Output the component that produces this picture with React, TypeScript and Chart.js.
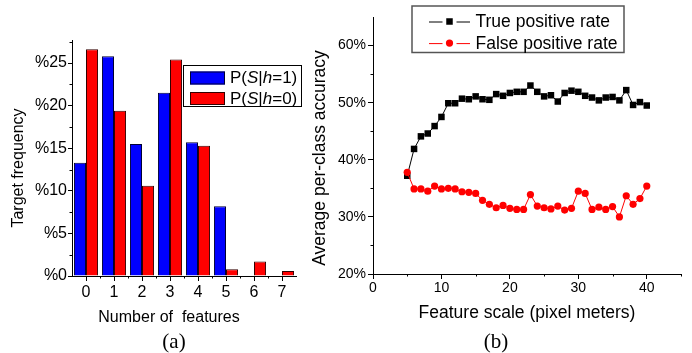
import React, { useEffect, useRef } from 'react';
import { Chart, registerables } from 'chart.js';

Chart.register(...registerables);

// ---------- data: panel (a) ----------
const featureCounts = ['0', '1', '2', '3', '4', '5', '6', '7'];
const probGivenH1 = [13.3, 25.8, 15.5, 21.5, 15.7, 8.2, 0, 0];
const probGivenH0 = [26.6, 19.4, 10.6, 25.4, 15.3, 0.8, 1.7, 0.6];
const freqTicks = [0, 5, 10, 15, 20, 25];
const freqMinorTicks = [2.5, 7.5, 12.5, 17.5, 22.5, 27.5];
const countMinorTicks = [0.5, 1.5, 2.5, 3.5, 4.5, 5.5, 6.5];
const legendA = ['P(*S*|*h*=1)', 'P(*S*|*h*=0)'];

// ---------- data: panel (b) ----------
const featureScale = [5, 6, 7, 8, 9, 10, 11, 12, 13, 14, 15, 16, 17, 18, 19, 20, 21, 22, 23, 24, 25, 26, 27, 28, 29, 30, 31, 32, 33, 34, 35, 36, 37, 38, 39, 40];
const truePositiveRate = [37.2, 41.9, 44.1, 44.6, 45.9, 47.5, 49.9, 49.9, 50.7, 50.6, 51.1, 50.6, 50.5, 51.5, 51.2, 51.7, 51.9, 51.9, 53.0, 51.9, 51.1, 51.3, 50.2, 51.7, 52.1, 51.9, 51.2, 50.9, 50.4, 50.9, 51.0, 50.4, 52.2, 49.6, 50.1, 49.5];
const falsePositiveRate = [37.8, 34.9, 34.9, 34.5, 35.4, 34.9, 35.0, 34.9, 34.4, 34.3, 34.1, 32.9, 32.2, 31.6, 32.0, 31.5, 31.3, 31.3, 33.9, 31.9, 31.6, 31.4, 31.9, 31.2, 31.5, 34.5, 34.1, 31.3, 31.7, 31.3, 31.8, 30.0, 33.7, 32.2, 33.2, 35.4];
const accuracyTicks = [20, 30, 40, 50, 60];
const accuracyMinorTicks = [25, 35, 45, 55];
const scaleTicks = [0, 10, 20, 30, 40];
const scaleMinorTicks = [5, 15, 25, 35, 45];
const legendB = ['True positive rate', 'False positive rate'];

const SANS = '"Liberation Sans", Arial, Helvetica, sans-serif';
const SERIF = '"Liberation Serif", "Times New Roman", serif';

// ---------- plugins ----------
const minorTicksPlugin = {
  id: 'minorTicks',
  afterDraw(chart: any, _args: any, opts: any) {
    const ctx = chart.ctx;
    const xs = chart.scales.x;
    const ys = chart.scales.y;
    const len = opts.length || 2.5;
    ctx.save();
    ctx.strokeStyle = '#000';
    ctx.lineWidth = 1;
    ctx.beginPath();
    (opts.x || []).forEach((v: number) => {
      const px = Math.round(xs.getPixelForValue(v)) + 0.5;
      ctx.moveTo(px, xs.top);
      ctx.lineTo(px, xs.top + len);
    });
    (opts.y || []).forEach((v: number) => {
      const py = Math.round(ys.getPixelForValue(v)) + 0.5;
      ctx.moveTo(ys.right, py);
      ctx.lineTo(ys.right - len, py);
    });
    ctx.stroke();
    ctx.restore();
  },
};

const captionsPlugin = {
  id: 'captions',
  afterDraw(chart: any, _args: any, opts: any) {
    const ctx = chart.ctx;
    (opts.items || []).forEach((c: any) => {
      ctx.save();
      ctx.translate(c.x, c.y);
      ctx.rotate(c.rotation || 0);
      ctx.font = c.font;
      ctx.fillStyle = '#000';
      ctx.textAlign = 'center';
      ctx.textBaseline = 'middle';
      ctx.fillText(c.text, 0, 0);
      ctx.restore();
    });
  },
};

function drawRich(ctx: CanvasRenderingContext2D, x: number, y: number, markup: string, size: number) {
  const parts = markup.split('*');
  let cx = x;
  parts.forEach((p, i) => {
    if (!p) return;
    ctx.font = `${i % 2 ? 'italic ' : ''}${size}px ${SANS}`;
    ctx.fillText(p, cx, y);
    cx += ctx.measureText(p).width;
  });
}

const barLegendPlugin = {
  id: 'barLegend',
  afterDraw(chart: any, _args: any, opts: any) {
    const ctx = chart.ctx;
    const b = opts.box;
    ctx.save();
    ctx.fillStyle = '#fff';
    ctx.fillRect(b.x, b.y, b.w, b.h);
    ctx.strokeStyle = '#000';
    ctx.lineWidth = 1;
    ctx.strokeRect(b.x + 0.5, b.y + 0.5, b.w, b.h);
    chart.data.datasets.forEach((ds: any, i: number) => {
      const ry = b.y + opts.rowTop + i * opts.rowGap;
      ctx.fillStyle = ds.backgroundColor;
      ctx.fillRect(b.x + opts.swX, ry, opts.swW, opts.swH);
      ctx.strokeStyle = ds.borderColor;
      ctx.strokeRect(b.x + opts.swX + 0.5, ry + 0.5, opts.swW - 1, opts.swH - 1);
      ctx.fillStyle = '#000';
      ctx.textBaseline = 'middle';
      ctx.textAlign = 'left';
      drawRich(ctx, b.x + opts.textX, ry + opts.swH / 2 + 0.5, opts.labels[i], opts.size);
    });
    ctx.restore();
  },
};

const lineLegendPlugin = {
  id: 'lineLegend',
  afterDraw(chart: any, _args: any, opts: any) {
    const ctx = chart.ctx;
    const b = opts.box;
    ctx.save();
    ctx.fillStyle = '#fff';
    ctx.fillRect(b.x, b.y, b.w, b.h);
    ctx.strokeStyle = '#555';
    ctx.lineWidth = 1.5;
    ctx.strokeRect(b.x, b.y, b.w, b.h);
    chart.data.datasets.forEach((ds: any, i: number) => {
      const cy = b.y + opts.rowTop + i * opts.rowGap;
      const x0 = b.x + opts.lineX;
      const x1 = x0 + opts.lineW;
      const mx = (x0 + x1) / 2;
      ctx.strokeStyle = ds.borderColor;
      ctx.lineWidth = 1;
      ctx.beginPath();
      ctx.moveTo(x0, cy + 0.5);
      ctx.lineTo(mx - 7, cy + 0.5);
      ctx.moveTo(mx + 7, cy + 0.5);
      ctx.lineTo(x1, cy + 0.5);
      ctx.stroke();
      ctx.fillStyle = ds.backgroundColor;
      ctx.beginPath();
      if (ds.pointStyle === 'rect') {
        const s = ds.pointRadius * Math.SQRT1_2;
        ctx.rect(mx - s, cy - s, 2 * s, 2 * s);
      } else {
        ctx.arc(mx, cy, ds.pointRadius, 0, Math.PI * 2);
      }
      ctx.fill();
      ctx.fillStyle = '#000';
      ctx.font = `${opts.size}px ${SANS}`;
      ctx.textAlign = 'left';
      ctx.textBaseline = 'middle';
      ctx.fillText(opts.labels[i], b.x + opts.textX, cy + 1);
    });
    ctx.restore();
  },
};

// ---------- charts ----------
function PanelA() {
  const ref = useRef<HTMLCanvasElement>(null);
  useEffect(() => {
    if (!ref.current) return;
    const chart = new Chart(ref.current, {
      type: 'bar',
      data: {
        labels: featureCounts,
        datasets: [
          { label: 'P(S|h=1)', data: probGivenH1, backgroundColor: '#0000ff', borderColor: '#000033', borderWidth: 1, categoryPercentage: 0.86, barPercentage: 1 },
          { label: 'P(S|h=0)', data: probGivenH0, backgroundColor: '#ff0000', borderColor: '#330000', borderWidth: 1, categoryPercentage: 0.86, barPercentage: 1 },
        ],
      },
      options: {
        animation: false,
        responsive: false,
        maintainAspectRatio: false,
        layout: { padding: { left: 0, top: 40, right: 14, bottom: 0 } },
        plugins: {
          legend: { display: false },
          tooltip: { enabled: false },
          title: { display: false },
          minorTicks: { x: countMinorTicks, y: freqMinorTicks, length: 2.5 },
          captions: {
            items: [
              { text: 'Target frequency', x: 19, y: 168, rotation: -Math.PI / 2, font: `16px ${SANS}` },
              { text: 'Number of  features', x: 169, y: 318, font: `16px ${SANS}` },
              { text: '(a)', x: 174, y: 342, font: `21px ${SERIF}` },
            ],
          },
          barLegend: {
            box: { x: 183, y: 65, w: 118, h: 41 },
            rowTop: 6.5, rowGap: 20.5, swX: 7, swW: 35, swH: 13, textX: 47, size: 17,
            labels: legendA,
          },
        } as any,
        scales: {
          x: {
            type: 'category',
            offset: true,
            grid: { offset: false, drawOnChartArea: false, drawTicks: true, tickLength: 5, color: '#000', lineWidth: 1 },
            border: { display: true, color: '#000', width: 1 },
            ticks: { color: '#000', font: { family: SANS, size: 16 }, padding: 2, maxRotation: 0 },
            afterFit: (s: any) => { s.height = 77; },
          },
          y: {
            type: 'linear',
            min: 0,
            max: 27.7,
            afterBuildTicks: (s: any) => { s.ticks = freqTicks.map((v) => ({ value: v })); },
            grid: { drawOnChartArea: false, drawTicks: true, tickLength: 4, color: '#000', lineWidth: 1 },
            border: { display: true, color: '#000', width: 1 },
            ticks: { color: '#000', font: { family: SANS, size: 16 }, padding: 1, callback: (v: any) => '%' + v },
            afterFit: (s: any) => { s.width = 72; },
          },
        },
      },
      plugins: [minorTicksPlugin, captionsPlugin, barLegendPlugin],
    } as any);
    return () => chart.destroy();
  }, []);
  return <canvas ref={ref} width={310} height={353} style={{ position: 'absolute', left: 0, top: 0, width: 310, height: 353 }} />;
}

function PanelB() {
  const ref = useRef<HTMLCanvasElement>(null);
  useEffect(() => {
    if (!ref.current) return;
    const chart = new Chart(ref.current, {
      type: 'line',
      data: {
        datasets: [
          {
            label: legendB[0],
            data: featureScale.map((x, i) => ({ x, y: truePositiveRate[i] })),
            borderColor: '#000',
            backgroundColor: '#000',
            borderWidth: 1,
            pointStyle: 'rect',
            pointRadius: 4.6,
            pointBorderWidth: 0,
            order: 2,
          },
          {
            label: legendB[1],
            data: featureScale.map((x, i) => ({ x, y: falsePositiveRate[i] })),
            borderColor: '#ff0000',
            backgroundColor: '#ff0000',
            borderWidth: 1,
            pointStyle: 'circle',
            pointRadius: 3.6,
            pointBorderWidth: 0,
            order: 1,
          },
        ],
      },
      options: {
        animation: false,
        responsive: false,
        maintainAspectRatio: false,
        layout: { padding: { left: 0, top: 17, right: 11, bottom: 0 } },
        plugins: {
          legend: { display: false },
          tooltip: { enabled: false },
          title: { display: false },
          minorTicks: { x: scaleMinorTicks, y: accuracyMinorTicks, length: 2.5 },
          captions: {
            items: [
              { text: 'Average per-class accuracy', x: 10, y: 158, rotation: -Math.PI / 2, font: `17.5px ${SANS}` },
              { text: 'Feature scale (pixel meters)', x: 217, y: 313, font: `17.5px ${SANS}` },
              { text: '(b)', x: 186, y: 342, font: `21px ${SERIF}` },
            ],
          },
          lineLegend: {
            box: { x: 102, y: 6, w: 212, h: 46.5 },
            rowTop: 15.5, rowGap: 21.6, lineX: 17, lineW: 41, textX: 63.5, size: 17.5,
            labels: legendB,
          },
        } as any,
        scales: {
          x: {
            type: 'linear',
            min: 0,
            max: 45,
            afterBuildTicks: (s: any) => { s.ticks = scaleTicks.map((v) => ({ value: v })); },
            grid: { drawOnChartArea: false, drawTicks: true, tickLength: 5, color: '#000', lineWidth: 1 },
            border: { display: true, color: '#000', width: 1 },
            ticks: { color: '#000', font: { family: SANS, size: 14 }, padding: 1, maxRotation: 0 },
            afterFit: (s: any) => { s.height = 79; },
          },
          y: {
            type: 'linear',
            min: 20,
            max: 65,
            afterBuildTicks: (s: any) => { s.ticks = accuracyTicks.map((v) => ({ value: v })); },
            grid: { drawOnChartArea: false, drawTicks: true, tickLength: 5, color: '#000', lineWidth: 1 },
            border: { display: true, color: '#000', width: 1 },
            ticks: { color: '#000', font: { family: SANS, size: 14 }, padding: 2, callback: (v: any) => v + '%' },
            afterFit: (s: any) => { s.width = 63; },
          },
        },
      },
      plugins: [minorTicksPlugin, captionsPlugin, lineLegendPlugin],
    } as any);
    return () => chart.destroy();
  }, []);
  return <canvas ref={ref} width={382} height={353} style={{ position: 'absolute', left: 310, top: 0, width: 382, height: 353 }} />;
}

export default function App() {
  return (
    <div style={{ position: 'absolute', left: 0, top: 0, width: 692, height: 353, background: '#fff', overflow: 'hidden' }}>
      <PanelA />
      <PanelB />
    </div>
  );
}
